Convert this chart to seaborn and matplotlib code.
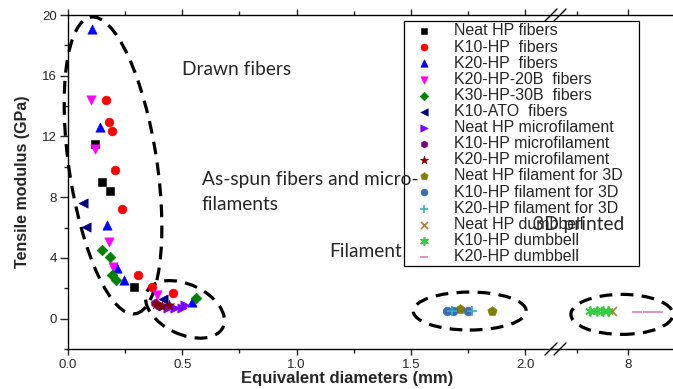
import numpy as np
import pandas as pd
import seaborn as sns
import matplotlib.pyplot as plt
from matplotlib.patches import Ellipse
from matplotlib.transforms import ScaledTranslation

# equivalent diameter (mm) and tensile modulus (GPa)
neat_fib_d = [0.117, 0.147, 0.184, 0.290]
neat_fib_e = [11.53, 8.99, 8.38, 2.08]
k10_fib_d = [0.166, 0.181, 0.191, 0.206, 0.235, 0.308, 0.366, 0.461]
k10_fib_e = [14.38, 12.93, 12.39, 9.78, 7.19, 2.85, 2.11, 1.71]
k20_fib_d = [0.104, 0.140, 0.169, 0.216, 0.245, 0.541]
k20_fib_e = [19.08, 12.61, 6.20, 3.36, 2.54, 1.09]
k20b_fib_d = [0.099, 0.117, 0.181, 0.198, 0.390]
k20b_fib_e = [14.43, 11.18, 5.04, 3.42, 1.53]
k30b_fib_d = [0.147, 0.184, 0.191, 0.210, 0.558]
k30b_fib_e = [4.49, 4.05, 2.85, 2.52, 1.35]
ato_fib_d = [0.067, 0.079, 0.417]
ato_fib_e = [7.63, 6.03, 1.27]
neat_mf_d = [0.439, 0.468, 0.497, 0.512]
neat_mf_e = [0.72, 0.68, 0.72, 0.88]
k10_mf_d = [0.381, 0.400]
k10_mf_e = [1.02, 0.85]
k20_mf_d = [0.385, 0.410, 0.440]
k20_mf_e = [0.95, 0.85, 0.90]
neat_3d_d = [1.716, 1.854]
neat_3d_e = [0.61, 0.50]
k10_3d_d = [1.657, 1.686, 1.752]
k10_3d_e = [0.50, 0.50, 0.50]
k20_3d_d = [1.679, 1.767]
k20_3d_e = [0.52, 0.50]
neat_db_d = [7.66, 7.77, 7.84]
neat_db_e = [0.50, 0.50, 0.50]
k10_db_d = [7.63, 7.70, 7.75, 7.80]
k10_db_e = [0.50, 0.50, 0.50, 0.50]
k20_db_d = [8.09, 8.20, 8.29]
k20_db_e = [0.41, 0.41, 0.41]

names = ["Neat HP fibers", "K10-HP  fibers", "K20-HP  fibers", "K20-HP-20B  fibers",
         "K30-HP-30B  fibers", "K10-ATO  fibers", "Neat HP microfilament",
         "K10-HP microfilament", "K20-HP microfilament", "Neat HP filament for 3D",
         "K10-HP filament for 3D", "K20-HP filament for 3D", "Neat HP dumbbell",
         "K10-HP dumbbell", "K20-HP dumbbell"]
xs = [neat_fib_d, k10_fib_d, k20_fib_d, k20b_fib_d, k30b_fib_d, ato_fib_d, neat_mf_d,
      k10_mf_d, k20_mf_d, neat_3d_d, k10_3d_d, k20_3d_d, neat_db_d, k10_db_d, k20_db_d]
ys = [neat_fib_e, k10_fib_e, k20_fib_e, k20b_fib_e, k30b_fib_e, ato_fib_e, neat_mf_e,
      k10_mf_e, k20_mf_e, neat_3d_e, k10_3d_e, k20_3d_e, neat_db_e, k10_db_e, k20_db_e]
markers = ["s", "o", "^", "v", "D", "<", ">", "h", "*", "p", "o", "+", "x", (6, 2, 0), "_"]
colors = ["#000000", "#FF0000", "#0000FF", "#FF00FF", "#008000", "#000080", "#8000FF",
          "#800080", "#800000", "#808000", "#3A6EB0", "#3AB0C0", "#B87A3A", "#30D040", "#E080B0"]
sizes = [34, 40, 45, 45, 30, 45, 45, 40, 60, 50, 40, 45, 40, 45, 60]

df = pd.DataFrame({
    "series": np.repeat(names, [len(v) for v in xs]),
    "d": np.concatenate(xs),
    "E": np.concatenate(ys),
})

sns.set_style("ticks")
plt.rcParams["font.family"] = ["Liberation Sans", "DejaVu Sans"]
plt.rcParams["xtick.labelsize"] = 9.5
plt.rcParams["ytick.labelsize"] = 9.5

fig = plt.figure(figsize=(6.73, 3.89), dpi=100)
W, H = 673, 389
ax1 = fig.add_axes([68 / W, 40 / H, (555 - 68) / W, 334 / H])
ax2 = fig.add_axes([555 / W, 40 / H, 118 / W, 334 / H], sharey=ax1)

for name, mk, col, s in zip(names, markers, colors, sizes):
    sub = df[df.series == name]
    filled = mk not in ("+", "x", "_", (6, 2, 0))
    for ax in (ax1, ax2):
        kw = dict(edgecolor=col, linewidth=0.4) if filled else dict(linewidth=1.2)
        sns.scatterplot(data=sub, x="d", y="E", marker=mk, color=col, s=s, ax=ax,
                        label=name if ax is ax1 else None, legend=False, zorder=3, **kw)

ax1.set_xlim(0, 2.131)
ax2.set_xlim(7.284, 8.441)
ax1.set_ylim(-2, 20)
ax1.set_yticks([0, 4, 8, 12, 16, 20])
ax1.set_yticks([-2, 2, 6, 10, 14, 18], minor=True)
ax1.set_xticks([0, 0.5, 1.0, 1.5, 2.0])
ax1.set_xticks([0.25, 0.75, 1.25, 1.75], minor=True)
ax1.set_xticklabels(["0.0", "0.5", "1.0", "1.5", "2.0"])
ax2.set_xticks([8])
ax2.set_xticks([7.5], minor=True)

for ax in (ax1, ax2):
    ax.set_xlabel("")
    ax.set_ylabel("")
    for sp in ax.spines.values():
        sp.set_linewidth(1.0)
        sp.set_color("black")
    ax.spines["right"].set_visible(False)
    ax.spines["top"].set_visible(True)
    ax.tick_params(axis="x", which="major", direction="out", length=4, width=1.0,
                   top=True, labeltop=False, pad=3)
    ax.tick_params(axis="x", which="minor", direction="out", length=3, width=1.0, top=True)
ax2.spines["left"].set_visible(False)
ax2.tick_params(axis="y", which="both", left=False, labelleft=False)
ax1.tick_params(axis="y", which="major", direction="out", length=6, width=1.0, pad=2)
ax1.tick_params(axis="y", which="minor", direction="out", length=3, width=1.0)

ax1.set_ylabel("Tensile modulus (GPa)", fontsize=11.5, fontweight="bold", labelpad=9)
ax1.set_xlabel("Equivalent diameters (mm)", fontsize=12, fontweight="bold")
ax1.xaxis.set_label_coords(0.573, -0.066)

# dashed ellipses around the groups (size in inches, centre in data units)
def ring(ax, cx, cy, w, h, ang):
    tr = fig.dpi_scale_trans + ScaledTranslation(cx, cy, ax.transData)
    e = Ellipse((0, 0), w / 100, h / 100, angle=ang, transform=tr, fill=False,
                edgecolor="black", linewidth=2.3, linestyle=(0, (4, 2.6)), clip_on=False, zorder=2)
    ax.add_patch(e)

ring(ax1, 0.197, 10.09, 88, 300, 8.5)
ring(ax1, 0.512, 0.61, 84, 50, -25)
ring(ax1, 1.758, 0.50, 113, 38, 0)
ring(ax2, 7.94, 0.28, 102, 40, 0)

# break marks
for yb in (40, 374):
    for xo in (551, 560):
        fig.add_artist(plt.Line2D([(xo - 6) / W, (xo + 6) / W], [(yb - 6) / H, (yb + 6) / H],
                                  color="black", linewidth=1.0))

handles, labels = ax1.get_legend_handles_labels()
leg = fig.legend(handles, labels, loc="upper left",
                 bbox_to_anchor=(404 / W, 0, 235 / W, 1 - 21 / H), mode="expand",
                 borderaxespad=0, fontsize=11.5, labelspacing=0.07, handletextpad=0.75,
                 handlelength=2.2, borderpad=0.15, frameon=True, fancybox=False,
                 framealpha=1, edgecolor="black", markerscale=0.8)
leg.get_frame().set_linewidth(0.9)
leg.set_zorder(5)

note = dict(transform=ax1.transData, family=["Lato", "DejaVu Sans"], fontsize=13.8,
            va="center", ha="left", zorder=10)
fig.text(0.50, 16.4, "Drawn fibers", **note)
fig.text(0.586, 9.16, "As-spun fibers and micro-", **note)
fig.text(0.586, 7.50, "filaments", **note)
fig.text(1.142, 4.43, "Filament", **note)
fig.text(2.035, 6.20, "3D printed", **note)

fig.savefig("out.png", dpi=100)
